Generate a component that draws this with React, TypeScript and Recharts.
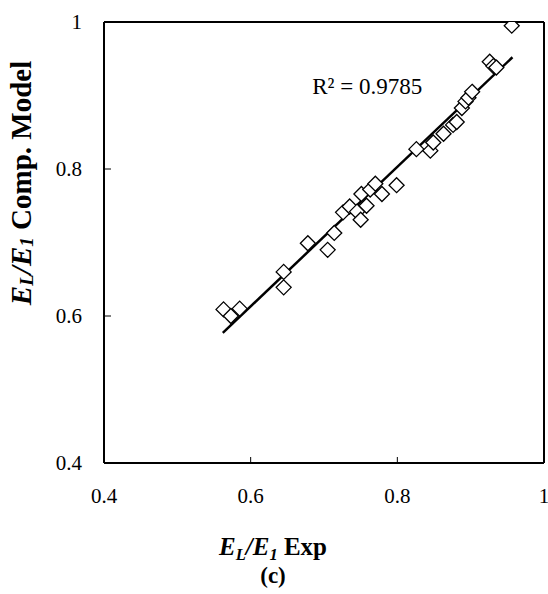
import React from "react";
import {
  ScatterChart,
  Scatter,
  XAxis,
  YAxis,
  ReferenceDot,
  ReferenceLine,
  Label,
} from "recharts";

// Experimental vs. computational-model normalised modulus (E_L / E_1)
const expRatio = [
  0.563, 0.573, 0.585, 0.645, 0.645, 0.678, 0.705, 0.714, 0.726, 0.735, 0.745,
  0.75, 0.751, 0.758, 0.763, 0.77, 0.779, 0.799, 0.826, 0.845, 0.849, 0.863,
  0.876, 0.881, 0.888, 0.893, 0.897, 0.902, 0.926, 0.931, 0.935, 0.956,
];
const modelRatio = [
  0.609, 0.6, 0.61, 0.66, 0.639, 0.699, 0.69, 0.713, 0.741, 0.749, 0.742,
  0.731, 0.766, 0.75, 0.772, 0.78, 0.766, 0.778, 0.827, 0.825, 0.836, 0.848,
  0.86, 0.864, 0.883, 0.892, 0.897, 0.905, 0.946, 0.94, 0.938, 0.995,
];

// Linear trend line end points
const trendX = [0.562, 0.957];
const trendY = [0.577, 0.952];

const axisTicks = [0.4, 0.6, 0.8, 1];
const tickLabels = ["0.4", "0.6", "0.8", "1"];
const rSquaredText = "R² = 0.9785";
const panelTag = "(c)";

const points = expRatio.map((x, i) => ({ x, y: modelRatio[i] }));
const trend = trendX.map((x, i) => ({ x, y: trendY[i] }));

const FONT = "'Liberation Serif', 'Times New Roman', serif";
const FS = 21;

const labelFor = (v: number) => tickLabels[axisTicks.indexOf(v)] ?? String(v);

const XTick = (props: any) => {
  const { x, y, payload } = props;
  return (
    <g>
      <line x1={x} x2={x} y1={y} y2={y - 6} stroke="#000" strokeWidth={1} />
      <text
        x={x}
        y={y + 33}
        textAnchor="middle"
        dominantBaseline="central"
        fontFamily={FONT}
        fontSize={FS}
        fill="#000"
      >
        {labelFor(payload.value)}
      </text>
    </g>
  );
};

const YTick = (props: any) => {
  const { x, y, payload } = props;
  return (
    <g>
      <line x1={x} x2={x + 7} y1={y} y2={y} stroke="#000" strokeWidth={1} />
      <text
        x={x - 22}
        y={y}
        textAnchor="end"
        dominantBaseline="central"
        fontFamily={FONT}
        fontSize={FS}
        fill="#000"
      >
        {labelFor(payload.value)}
      </text>
    </g>
  );
};

const Diamond = (props: any) => {
  const { cx, cy } = props;
  if (cx == null || cy == null) return null;
  const r = 7.5;
  return (
    <polygon
      points={`${cx},${cy - r} ${cx + r},${cy} ${cx},${cy + r} ${cx - r},${cy}`}
      fill="#fff"
      stroke="#000"
      strokeWidth={1.3}
    />
  );
};

const RatioLabel = ({ sub, size }: { sub: string; size: number }) => (
  <>
    <tspan fontStyle="italic">E</tspan>
    <tspan fontStyle="italic" fontSize={size * 0.66} dy={5}>
      {sub}
    </tspan>
    <tspan fontStyle="italic" dy={-5}>
      /
    </tspan>
    <tspan fontStyle="italic">E</tspan>
    <tspan fontStyle="italic" fontSize={size * 0.66} dy={5}>
      1
    </tspan>
  </>
);

const XTitle = (props: any) => {
  const vb = props.viewBox || {};
  const cx = vb.x + 169;
  const y0 = vb.y;
  return (
    <g fontFamily={FONT} fontWeight="bold" fill="#000">
      <text x={cx} y={y0 + 92} textAnchor="middle" fontSize={25}>
        <RatioLabel sub="L" size={25} />
        <tspan dy={-5}> Exp</tspan>
      </text>
      <text x={cx} y={y0 + 120} textAnchor="middle" fontSize={23}>
        {panelTag}
      </text>
    </g>
  );
};

const YTitle = (props: any) => {
  const vb = props.viewBox || {};
  const cx = 21;
  const cy = vb.y + 161;
  return (
    <text
      x={cx}
      y={cy}
      transform={`rotate(-90, ${cx}, ${cy})`}
      textAnchor="middle"
      dominantBaseline="central"
      fontFamily={FONT}
      fontWeight="bold"
      fontSize={29}
      fill="#000"
    >
      <RatioLabel sub="L" size={29} />
      <tspan dy={-5}> Comp. Model</tspan>
    </text>
  );
};

const RLabel = (props: any) => {
  const { viewBox } = props;
  return (
    <text
      x={viewBox.x}
      y={viewBox.y}
      dominantBaseline="central"
      fontFamily={FONT}
      fontSize={23}
      fill="#000"
    >
      {rSquaredText}
    </text>
  );
};

const frameLine = { stroke: "#000", strokeWidth: 2 };

export default function App() {
  return (
    <div style={{ position: "absolute", left: 0, top: 0, background: "#fff" }}>
      <ScatterChart
        width={548}
        height={594}
        margin={{ top: 22, right: 4, left: 0, bottom: 81 }}
      >
        <XAxis
          type="number"
          dataKey="x"
          domain={[0.4, 1]}
          ticks={axisTicks}
          interval={0}
          height={50}
          tickSize={0}
          tickMargin={0}
          tick={(p: any) => <XTick {...p} />}
          axisLine={frameLine}
          tickLine={false}
          allowDataOverflow
        >
          <Label content={(p: any) => <XTitle {...p} />} />
        </XAxis>
        <YAxis
          type="number"
          dataKey="y"
          domain={[0.4, 1]}
          ticks={axisTicks}
          interval={0}
          width={104}
          tickSize={0}
          tickMargin={0}
          tick={(p: any) => <YTick {...p} />}
          axisLine={frameLine}
          tickLine={false}
          allowDataOverflow
        >
          <Label content={(p: any) => <YTitle {...p} />} />
        </YAxis>
        {/* top and right edges of the plot frame */}
        <ReferenceLine y={1} stroke="#000" strokeWidth={2} ifOverflow="visible" />
        <ReferenceLine x={1} stroke="#000" strokeWidth={2} ifOverflow="visible" />
        <Scatter
          data={trend}
          line={{ stroke: "#000", strokeWidth: 2.5 }}
          shape={() => null}
          isAnimationActive={false}
        />
        <Scatter
          data={points}
          shape={(p: any) => <Diamond {...p} />}
          isAnimationActive={false}
        />
        <ReferenceDot
          x={0.684}
          y={0.912}
          r={0}
          fill="none"
          stroke="none"
          label={(p: any) => <RLabel {...p} />}
        />
      </ScatterChart>
    </div>
  );
}
